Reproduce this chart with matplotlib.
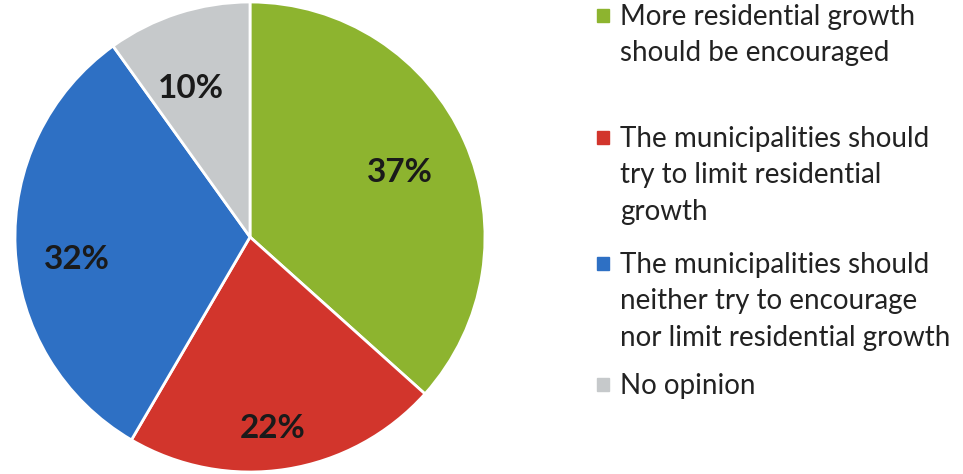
import matplotlib
matplotlib.use('Agg')
import matplotlib.pyplot as plt
import matplotlib.patches as mpatches
import numpy as np

plt.rcParams['font.family'] = ['Lato', 'DejaVu Sans']

# data
categories = ['More residential growth\nshould be encouraged',
              'The municipalities should\ntry to limit residential\ngrowth',
              'The municipalities should\nneither try to encourage\nnor limit residential growth',
              'No opinion']
shares = [37, 22, 32, 10]
colors = ['#8DB42F', '#D2352C', '#2E70C4', '#C6C9CB']

# label placement: radius (fraction of pie radius) and angle nudge (deg)
label_r = [0.70, 0.81, 0.74, 0.69]
label_nudge = [0, -2, 4, 3.5]
# legend first-line baselines (pixels from top), line step in pixels
legend_base = [25, 147, 273, 394]
line_step = 36.5

W, H = 963, 474
fig = plt.figure(figsize=(W / 100, H / 100), dpi=100)
ax = fig.add_axes([15 / W, 2 / H, 470 / W, 470 / H])

wedges, _ = ax.pie(shares, colors=colors, startangle=90, counterclock=False,
                   wedgeprops=dict(edgecolor='white', linewidth=2))
ax.set_xlim(-1, 1)
ax.set_ylim(-1, 1)
ax.set_aspect('equal')

for w, v, r, d in zip(wedges, shares, label_r, label_nudge):
	ang = np.deg2rad((w.theta1 + w.theta2) / 2 + d)
	ax.text(r * np.cos(ang), r * np.sin(ang), f'{v}%', ha='center', va='center_baseline',
			fontsize=24, fontweight='bold', color='#1a1a1a')

# legend drawn by hand (uneven spacing in original)
for lab, c, base in zip(categories, colors, legend_base):
	for i, line in enumerate(lab.split('\n')):
		fig.text(620 / W, 1 - (base + i * line_step) / H, line, ha='left', va='baseline',
				 fontsize=20, color='#222222')
	fig.patches.append(mpatches.Rectangle((597 / W, 1 - (base - 3) / H), 12 / W, 13 / H,
										  transform=fig.transFigure, color=c))

fig.savefig('out.png', dpi=100)
